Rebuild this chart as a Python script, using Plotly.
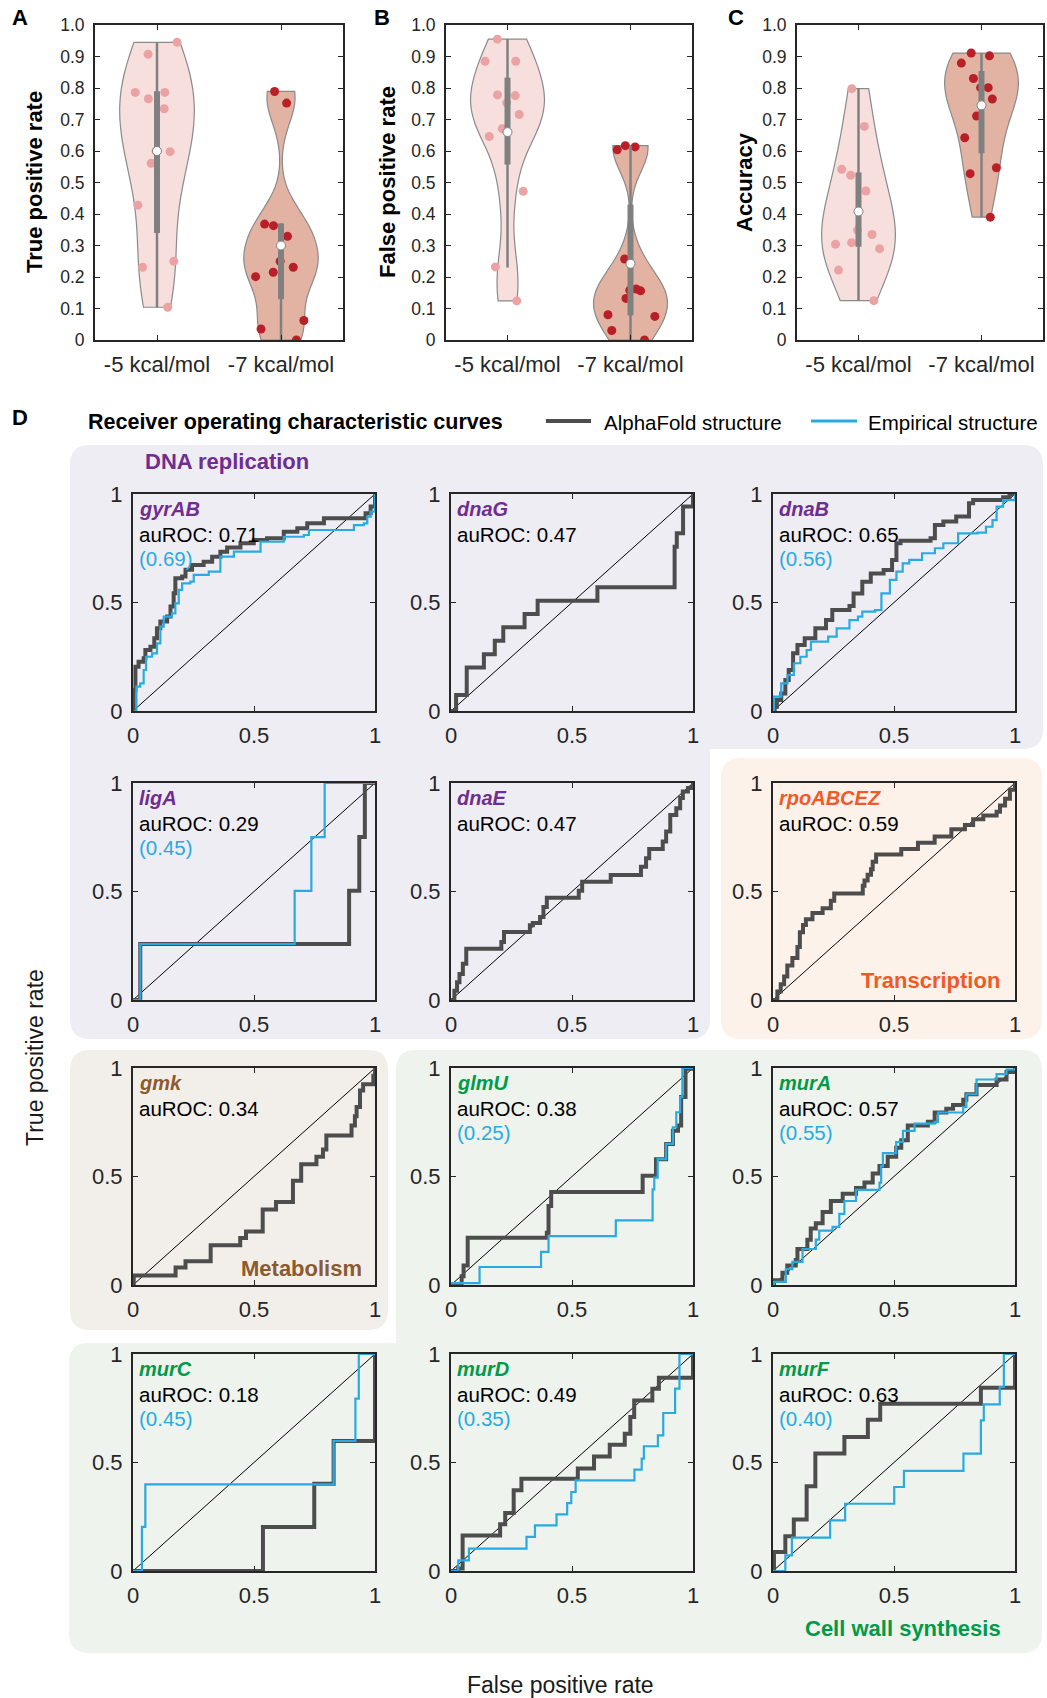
import plotly.graph_objects as go

W, H = 1047, 1698
FONT = "Liberation Sans, Arial, Helvetica, sans-serif"
TXT = "#262626"

def X(v): return v / W
def Y(v): return 1 - v / H

# ---------------- violin data (panels A-C) ----------------
CATS = ["-5 kcal/mol", "-7 kcal/mol"]
TPR_5 = [0.945, 0.907, 0.786, 0.786, 0.766, 0.734, 0.600, 0.598, 0.561, 0.428, 0.250, 0.231, 0.104]
TPR_7 = [0.789, 0.752, 0.368, 0.363, 0.329, 0.250, 0.231, 0.215, 0.201, 0.062, 0.035, 0.0]
FPR_5 = [0.955, 0.885, 0.885, 0.778, 0.776, 0.753, 0.716, 0.671, 0.646, 0.472, 0.232, 0.124]
FPR_7 = [0.617, 0.613, 0.604, 0.257, 0.162, 0.158, 0.156, 0.132, 0.080, 0.075, 0.030, 0.0]
ACC_5 = [0.798, 0.678, 0.542, 0.523, 0.473, 0.349, 0.335, 0.309, 0.304, 0.290, 0.222, 0.125]
ACC_7 = [0.911, 0.902, 0.879, 0.830, 0.801, 0.801, 0.765, 0.711, 0.642, 0.547, 0.528, 0.390]
# box summaries: (whisker low, q1, median, q3, whisker high)
TPR_BOX = [(0.104, 0.34, 0.60, 0.79, 0.945), (0.0, 0.13, 0.30, 0.37, 0.37)]
FPR_BOX = [(0.23, 0.557, 0.66, 0.833, 0.955), (0.0, 0.078, 0.242, 0.43, 0.617)]
ACC_BOX = [(0.125, 0.296, 0.408, 0.532, 0.80), (0.39, 0.593, 0.745, 0.854, 0.911)]
BW = {"A": (0.15, 0.08), "B": (0.10, 0.075), "C": (0.13, 0.10)}
Y_TICKS = [0, 0.1, 0.2, 0.3, 0.4, 0.5, 0.6, 0.7, 0.8, 0.9, 1.0]
Y_TICKTEXT = ["0", "0.1", "0.2", "0.3", "0.4", "0.5", "0.6", "0.7", "0.8", "0.9", "1.0"]

# ---------------- ROC data (panel D) ----------------
GENES = ["gyrAB", "dnaG", "dnaB", "ligA", "dnaE", "rpoABCEZ",
         "gmk", "glmU", "murA", "murC", "murD", "murF"]
AUROC_AF = ["0.71", "0.47", "0.65", "0.29", "0.47", "0.59",
            "0.34", "0.38", "0.57", "0.18", "0.49", "0.63"]
AUROC_EMP = ["0.69", None, "0.56", "0.45", None, None,
             None, "0.25", "0.55", "0.45", "0.35", "0.40"]
GROUP = ["dna", "dna", "dna", "dna", "dna", "tx",
         "met", "cw", "cw", "cw", "cw", "cw"]
ROC_TICKS = [0, 0.5, 1]
ROC_TICKTEXT = ["0", "0.5", "1"]

AF = {
 "gyrAB": [(0,0),(0.003,0.097),(0.01,0.204),(0.023,0.227),(0.044,0.243),(0.051,0.281),(0.072,0.296),
           (0.088,0.335),(0.099,0.381),(0.113,0.412),(0.141,0.435),(0.155,0.482),(0.168,0.543),(0.175,0.612),
           (0.203,0.620),(0.217,0.651),(0.244,0.673),(0.292,0.688),(0.327,0.711),(0.361,0.734),(0.389,0.753),
           (0.444,0.773),(0.499,0.788),(0.554,0.796),(0.623,0.826),(0.679,0.842),(0.72,0.865),(0.789,0.888),
           (0.948,0.888),(0.961,0.911),(0.982,0.942),(1,1)],
 "dnaG": [(0,0),(0.021,0.074),(0.065,0.201),(0.136,0.261),(0.181,0.324),(0.216,0.386),(0.304,0.447),
          (0.358,0.508),(0.605,0.570),(0.924,0.757),(0.933,0.819),(0.959,0.942),(1,1)],
 "dnaB": [(0,0),(0.007,0.02),(0.016,0.051),(0.034,0.081),(0.051,0.143),(0.065,0.189),(0.083,0.266),(0.101,0.304),
          (0.131,0.335),(0.175,0.381),(0.219,0.419),(0.245,0.465),(0.316,0.484),(0.333,0.542),(0.369,0.596),
          (0.404,0.634),(0.457,0.650),(0.492,0.696),(0.510,0.773),(0.527,0.785),(0.651,0.796),(0.669,0.857),
          (0.704,0.873),(0.757,0.896),(0.810,0.957),(0.827,0.972),(0.951,0.985),(0.977,1),(1,1)],
 "ligA": [(0,0),(0.030,0.258),(0.893,0.503),(0.935,0.751),(0.958,1.0),(1,1)],
 "dnaE": [(0,0),(0.014,0.043),(0.025,0.082),(0.035,0.120),(0.049,0.167),(0.063,0.236),(0.208,0.267),
          (0.219,0.313),(0.326,0.344),(0.338,0.355),(0.368,0.383),(0.382,0.429),(0.396,0.471),(0.528,0.503),
          (0.542,0.545),(0.660,0.576),(0.785,0.614),(0.806,0.653),(0.819,0.696),(0.875,0.730),(0.889,0.776),
          (0.906,0.853),(0.931,0.884),(0.947,0.931),(0.958,0.961),(0.979,0.977),(1,1)],
 "rpoABCEZ": [(0,0),(0.018,0.039),(0.032,0.073),(0.046,0.108),(0.059,0.159),(0.080,0.193),(0.101,0.244),
              (0.111,0.312),(0.124,0.346),(0.136,0.372),(0.163,0.401),(0.205,0.423),(0.239,0.457),(0.253,0.491),
              (0.371,0.526),(0.378,0.551),(0.391,0.577),(0.405,0.602),(0.412,0.637),(0.426,0.671),(0.530,0.696),
              (0.599,0.725),(0.668,0.753),(0.737,0.787),(0.793,0.807),(0.827,0.833),(0.869,0.850),(0.924,0.867),
              (0.938,0.896),(0.959,0.927),(0.979,0.969),(1,1)],
 "gmk": [(0,0),(0.003,0.044),(0.176,0.081),(0.217,0.110),(0.321,0.183),(0.443,0.217),(0.467,0.246),
         (0.536,0.348),(0.591,0.382),(0.661,0.480),(0.695,0.557),(0.758,0.591),(0.785,0.625),(0.799,0.689),
         (0.903,0.735),(0.917,0.778),(0.924,0.820),(0.938,0.896),(0.951,0.925),(0.993,0.964),(1,1)],
 "glmU": [(0,0),(0.044,0.040),(0.052,0.09),(0.069,0.218),(0.396,0.241),(0.403,0.364),(0.414,0.429),
          (0.792,0.503),(0.847,0.580),(0.889,0.650),(0.917,0.711),(0.938,0.735),(0.951,0.866),(0.969,0.997),(1,1)],
 "murA": [(0,0),(0.004,0.022),(0.039,0.056),(0.059,0.090),(0.094,0.115),(0.101,0.166),(0.142,0.209),
          (0.156,0.260),(0.177,0.285),(0.205,0.336),(0.239,0.387),(0.288,0.421),(0.343,0.447),(0.378,0.472),
          (0.412,0.514),(0.440,0.548),(0.474,0.591),(0.509,0.633),(0.530,0.667),(0.557,0.735),(0.640,0.752),
          (0.668,0.795),(0.716,0.812),(0.744,0.829),(0.786,0.854),(0.799,0.879),(0.841,0.922),(0.924,0.947),
          (0.965,0.981),(1,1)],
 "murC": [(0,0),(0.537,0.203),(0.749,0.402),(0.829,0.599),(1.0,1.0)],
 "murD": [(0,0),(0.030,0.011),(0.048,0.057),(0.048,0.164),(0.203,0.215),(0.224,0.267),(0.259,0.372),
          (0.291,0.425),(0.524,0.472),(0.591,0.528),(0.656,0.582),(0.718,0.633),(0.741,0.710),(0.757,0.786),
          (0.832,0.840),(0.859,0.891),(1.0,1.0)],
 "murF": [(0,0),(0.004,0.088),(0.051,0.160),(0.086,0.237),(0.139,0.390),(0.175,0.541),(0.295,0.618),
          (0.392,0.697),(0.443,0.771),(0.859,0.845),(1.0,1.0)],
}
EMP = {
 "gyrAB": [(0.005,0),(0.014,0.112),(0.030,0.127),(0.044,0.189),(0.054,0.250),(0.079,0.266),(0.099,0.312),
           (0.113,0.389),(0.127,0.435),(0.161,0.45),(0.175,0.496),(0.189,0.558),(0.203,0.588),(0.237,0.596),
           (0.251,0.627),(0.313,0.642),(0.361,0.711),(0.417,0.734),(0.527,0.780),(0.623,0.803),(0.706,0.811),
           (0.727,0.834),(0.892,0.834),(0.913,0.857),(0.954,0.865),(0.968,0.896),(0.982,0.919),(1,1)],
 "dnaB": [(0,0),(0.004,0.066),(0.034,0.127),(0.060,0.166),(0.086,0.220),(0.113,0.250),(0.139,0.281),
          (0.157,0.320),(0.228,0.343),(0.263,0.381),(0.316,0.419),(0.351,0.435),(0.369,0.458),(0.422,0.465),
          (0.448,0.542),(0.483,0.604),(0.510,0.642),(0.536,0.680),(0.563,0.696),(0.616,0.727),(0.669,0.750),
          (0.704,0.773),(0.765,0.819),(0.845,0.822),(0.880,0.849),(0.907,0.880),(0.924,0.942),(0.951,0.972),(1,1)],
 "ligA": [(0,0),(0.030,0.258),(0.668,0.503),(0.737,0.751),(0.792,1.0),(1,1)],
 "glmU": [(0,0.009),(0.118,0.083),(0.372,0.153),(0.403,0.225),(0.681,0.298),(0.833,0.441),(0.840,0.495),
          (0.854,0.580),(0.889,0.650),(0.917,0.727),(0.931,0.796),(0.947,0.866),(0.956,1.0),(1,1)],
 "murA": [(0,0),(0.004,0.014),(0.053,0.073),(0.080,0.107),(0.122,0.166),(0.177,0.209),(0.191,0.251),
          (0.246,0.268),(0.274,0.328),(0.295,0.387),(0.343,0.438),(0.440,0.472),(0.447,0.548),(0.454,0.608),
          (0.509,0.659),(0.537,0.710),(0.585,0.744),(0.668,0.752),(0.682,0.795),(0.786,0.820),(0.799,0.879),
          (0.841,0.947),(0.924,0.972),(0.965,0.993),(1,1)],
 "murC": [(0,0),(0.037,0.203),(0.051,0.399),(0.829,0.599),(0.919,0.794),(0.933,1.0),(1,1)],
 "murD": [(0,0),(0.012,0.0),(0.030,0.049),(0.074,0.103),(0.312,0.157),(0.347,0.210),(0.436,0.261),
          (0.480,0.313),(0.497,0.364),(0.515,0.418),(0.758,0.467),(0.788,0.518),(0.797,0.575),(0.855,0.625),
          (0.877,0.728),(0.926,0.840),(0.944,1.0),(1,1)],
 "murF": [(0,0),(0.051,0.072),(0.078,0.154),(0.236,0.233),(0.298,0.310),(0.501,0.387),(0.541,0.461),
          (0.787,0.541),(0.859,0.694),(0.871,0.768),(0.937,0.848),(0.954,1.0),(1,1)],
}

GROUP_COLOR = {"dna": "#6f2c91", "tx": "#f05a28", "met": "#8b5a2e", "cw": "#009a49"}
PANEL_FILL = {"dna": "#efedf4", "tx": "#fdf2ea", "met": "#f2efea", "cw": "#eef3ed"}
AF_COLOR = "#4d4d4d"
EMP_COLOR = "#29abe2"

# ---------------- layout geometry (pixels) ----------------
VIOLIN_BOX = {"A": (95, 343), "B": (446, 692), "C": (797, 1043)}
VIOLIN_TOP, VIOLIN_BOT = 25, 340
ROC_LEFT = [133, 451, 773]
ROC_TOP = [494, 783, 1068, 1354]
ROC_W, ROC_H = 242, 217

fig = go.Figure()
layout = dict(width=W, height=H, margin=dict(l=0, r=0, t=0, b=0, pad=0), autosize=False,
              paper_bgcolor="white", plot_bgcolor="rgba(0,0,0,0)",
              showlegend=False, font=dict(family=FONT, color=TXT))

def axis_common(size):
    return dict(showline=True, linecolor=TXT, linewidth=2, mirror="ticks",
                ticks="inside", ticklen=5, tickwidth=1.4, tickcolor=TXT,
                showgrid=False, zeroline=False, tickfont=dict(size=size, family=FONT, color=TXT),
                fixedrange=True, automargin=False)

# ---- violins ----
panel_data = {"A": (TPR_5, TPR_7, TPR_BOX, "True positive rate"),
              "B": (FPR_5, FPR_7, FPR_BOX, "False positive rate"),
              "C": (ACC_5, ACC_7, ACC_BOX, "Accuracy")}
FILL = ["#f7dfde", "#e2b3a3"]
PT = ["#eba2a3", "#b91f26"]
annotations = []
for k, key in enumerate(["A", "B", "C"]):
    i = k + 1
    xa, ya = ("x", "y") if i == 1 else (f"x{i}", f"y{i}")
    lo, hi, box, title = panel_data[key]
    x0, x1 = VIOLIN_BOX[key]
    layout["xaxis" if i == 1 else f"xaxis{i}"] = dict(
        domain=[X(x0), X(x1)], anchor=ya, range=[0.5, 2.5],
        tickvals=[1, 2], ticktext=CATS, ticklabelstandoff=4, **axis_common(22))
    layout["yaxis" if i == 1 else f"yaxis{i}"] = dict(
        domain=[Y(VIOLIN_BOT), Y(VIOLIN_TOP)], anchor=xa, range=[0, 1],
        tickvals=Y_TICKS, ticktext=Y_TICKTEXT, ticklabelstandoff=5, **axis_common(17.5))
    for j, vals in enumerate([lo, hi]):
        fig.add_trace(go.Violin(
            x=[j + 1] * len(vals), y=vals, xaxis=xa, yaxis=ya, width=0.6,
            spanmode="hard", bandwidth=BW[key][j], scalemode="width",
            fillcolor=FILL[j], line=dict(color="#8a8a8a", width=1.2), opacity=1,
            points="all", jitter=0.85, pointpos=0,
            marker=dict(color=PT[j], size=9, line=dict(width=0)),
            box_visible=False, meanline_visible=False, showlegend=False, hoverinfo="y"))
    for j, (wl, q1, med, q3, wh) in enumerate(box):
        fig.add_trace(go.Scatter(x=[j + 1, j + 1], y=[wl, wh], xaxis=xa, yaxis=ya, mode="lines",
                                 line=dict(color="#808080", width=2.5), hoverinfo="skip"))
        fig.add_trace(go.Scatter(x=[j + 1, j + 1], y=[q1, q3], xaxis=xa, yaxis=ya, mode="lines",
                                 line=dict(color="#808080", width=6), hoverinfo="skip"))
        fig.add_trace(go.Scatter(x=[j + 1], y=[med], xaxis=xa, yaxis=ya, mode="markers",
                                 marker=dict(color="white", size=9, line=dict(color="#808080", width=1)),
                                 hoverinfo="y"))
# violin titles and panel letters
for key, cx in [("A", 35), ("B", 388), ("C", 745)]:
    annotations.append(dict(x=X(cx), y=Y(182), xref="paper", yref="paper", text=f"<b>{panel_data[key][3]}</b>",
                            textangle=-90, showarrow=False, font=dict(size=22, color="black", family=FONT),
                            xanchor="center", yanchor="middle"))
for lab, lx in [("A", 10), ("B", 372), ("C", 726)]:
    annotations.append(dict(x=X(lx), y=Y(18), xref="paper", yref="paper", text=f"<b>{lab}</b>",
                            showarrow=False, font=dict(size=22, color="black", family=FONT),
                            xanchor="left", yanchor="middle"))

# ---- background panels ----
def rrect(x0, y0, x1, y1, r):
    return (f"M {X(x0+r)},{Y(y0)} L {X(x1-r)},{Y(y0)} Q {X(x1)},{Y(y0)} {X(x1)},{Y(y0+r)} "
            f"L {X(x1)},{Y(y1-r)} Q {X(x1)},{Y(y1)} {X(x1-r)},{Y(y1)} "
            f"L {X(x0+r)},{Y(y1)} Q {X(x0)},{Y(y1)} {X(x0)},{Y(y1-r)} "
            f"L {X(x0)},{Y(y0+r)} Q {X(x0)},{Y(y0)} {X(x0+r)},{Y(y0)} Z")

shapes = []
for (x0, y0, x1, y1), g in [((70, 445, 1043, 749), "dna"), ((70, 445, 710, 1039), "dna"),
                            ((721, 758, 1042, 1039), "tx"), ((70, 1050, 388, 1330), "met"),
                            ((396, 1050, 1042, 1653), "cw"), ((69, 1343, 1042, 1653), "cw")]:
    shapes.append(dict(type="path", path=rrect(x0, y0, x1, y1, 20), xref="paper", yref="paper",
                       fillcolor=PANEL_FILL[g], line=dict(width=0), layer="below"))

# ---- ROC subplots ----
for n, gene in enumerate(GENES):
    i = n + 4
    xa, ya = f"x{i}", f"y{i}"
    r, c = divmod(n, 3)
    x0 = ROC_LEFT[c]; y0 = ROC_TOP[r]
    layout[f"xaxis{i}"] = dict(domain=[X(x0), X(x0 + ROC_W)], anchor=ya, range=[0, 1],
                               tickvals=ROC_TICKS, ticktext=ROC_TICKTEXT, ticklabelstandoff=4,
                               **axis_common(22))
    layout[f"yaxis{i}"] = dict(domain=[Y(y0 + ROC_H), Y(y0)], anchor=xa, range=[0, 1],
                               tickvals=ROC_TICKS, ticktext=ROC_TICKTEXT, ticklabelstandoff=4,
                               **axis_common(22))
    fig.add_trace(go.Scatter(x=[0, 1], y=[0, 1], xaxis=xa, yaxis=ya, mode="lines",
                             line=dict(color="black", width=1), hoverinfo="skip"))
    af = AF[gene]
    fig.add_trace(go.Scatter(x=[p[0] for p in af], y=[p[1] for p in af], xaxis=xa, yaxis=ya,
                             mode="lines", line=dict(color=AF_COLOR, width=4, shape="hv"),
                             cliponaxis=False, name="AlphaFold structure"))
    if gene in EMP:
        em = EMP[gene]
        fig.add_trace(go.Scatter(x=[p[0] for p in em], y=[p[1] for p in em], xaxis=xa, yaxis=ya,
                                 mode="lines", line=dict(color=EMP_COLOR, width=2.2, shape="hv"),
                                 cliponaxis=False, name="Empirical structure"))
    col = GROUP_COLOR[GROUP[n]]
    annotations.append(dict(x=X(x0 + 4), y=Y(y0 + 15), xref="paper", yref="paper",
                            text=f"<b><i>{gene}</i></b>", showarrow=False, xanchor="left", yanchor="middle",
                            font=dict(size=20, color=col, family=FONT)))
    annotations.append(dict(x=X(x0 + 4), y=Y(y0 + 40), xref="paper", yref="paper",
                            text=f"auROC: {AUROC_AF[n]}", showarrow=False, xanchor="left", yanchor="middle",
                            font=dict(size=20.5, color="black", family=FONT)))
    if AUROC_EMP[n]:
        annotations.append(dict(x=X(x0 + 4), y=Y(y0 + 64), xref="paper", yref="paper",
                                text=f"({AUROC_EMP[n]})", showarrow=False, xanchor="left", yanchor="middle",
                                font=dict(size=20.5, color=EMP_COLOR, family=FONT)))

# ---- panel D texts ----
def txt(x, y, t, size, color="black", xanchor="left", angle=0):
    annotations.append(dict(x=X(x), y=Y(y), xref="paper", yref="paper", text=t, showarrow=False,
                            xanchor=xanchor, yanchor="middle", textangle=angle,
                            font=dict(size=size, color=color, family=FONT)))

txt(10, 418, "<b>D</b>", 22)
txt(86, 422, "<b>Receiver operating characteristic curves</b>", 21.5)
txt(602, 422, "AlphaFold structure", 20.5)
txt(866, 422, "Empirical structure", 20.5)
shapes.append(dict(type="line", xref="paper", yref="paper", x0=X(546), x1=X(591), y0=Y(421), y1=Y(421),
                   line=dict(color=AF_COLOR, width=4)))
shapes.append(dict(type="line", xref="paper", yref="paper", x0=X(811), x1=X(857), y0=Y(421), y1=Y(421),
                   line=dict(color=EMP_COLOR, width=3)))
txt(143, 462, "<b>DNA replication</b>", 22, GROUP_COLOR["dna"])
txt(1002, 980, "<b>Transcription</b>", 22, GROUP_COLOR["tx"], xanchor="right")
txt(364, 1268, "<b>Metabolism</b>", 22, GROUP_COLOR["met"], xanchor="right")
txt(1003, 1628, "<b>Cell wall synthesis</b>", 22, GROUP_COLOR["cw"], xanchor="right")
txt(560, 1685, "False positive rate", 23, "#1a1a1a", xanchor="center")
txt(35, 1058, "True positive rate", 23, "#1a1a1a", xanchor="center", angle=-90)

layout["annotations"] = annotations
layout["shapes"] = shapes
fig.update_layout(**layout)
fig.write_html("out.html", config={"displayModeBar": False},
               post_script="document.body.style.margin='0px';document.body.style.padding='0px';"
                           "document.documentElement.style.overflow='hidden';")
